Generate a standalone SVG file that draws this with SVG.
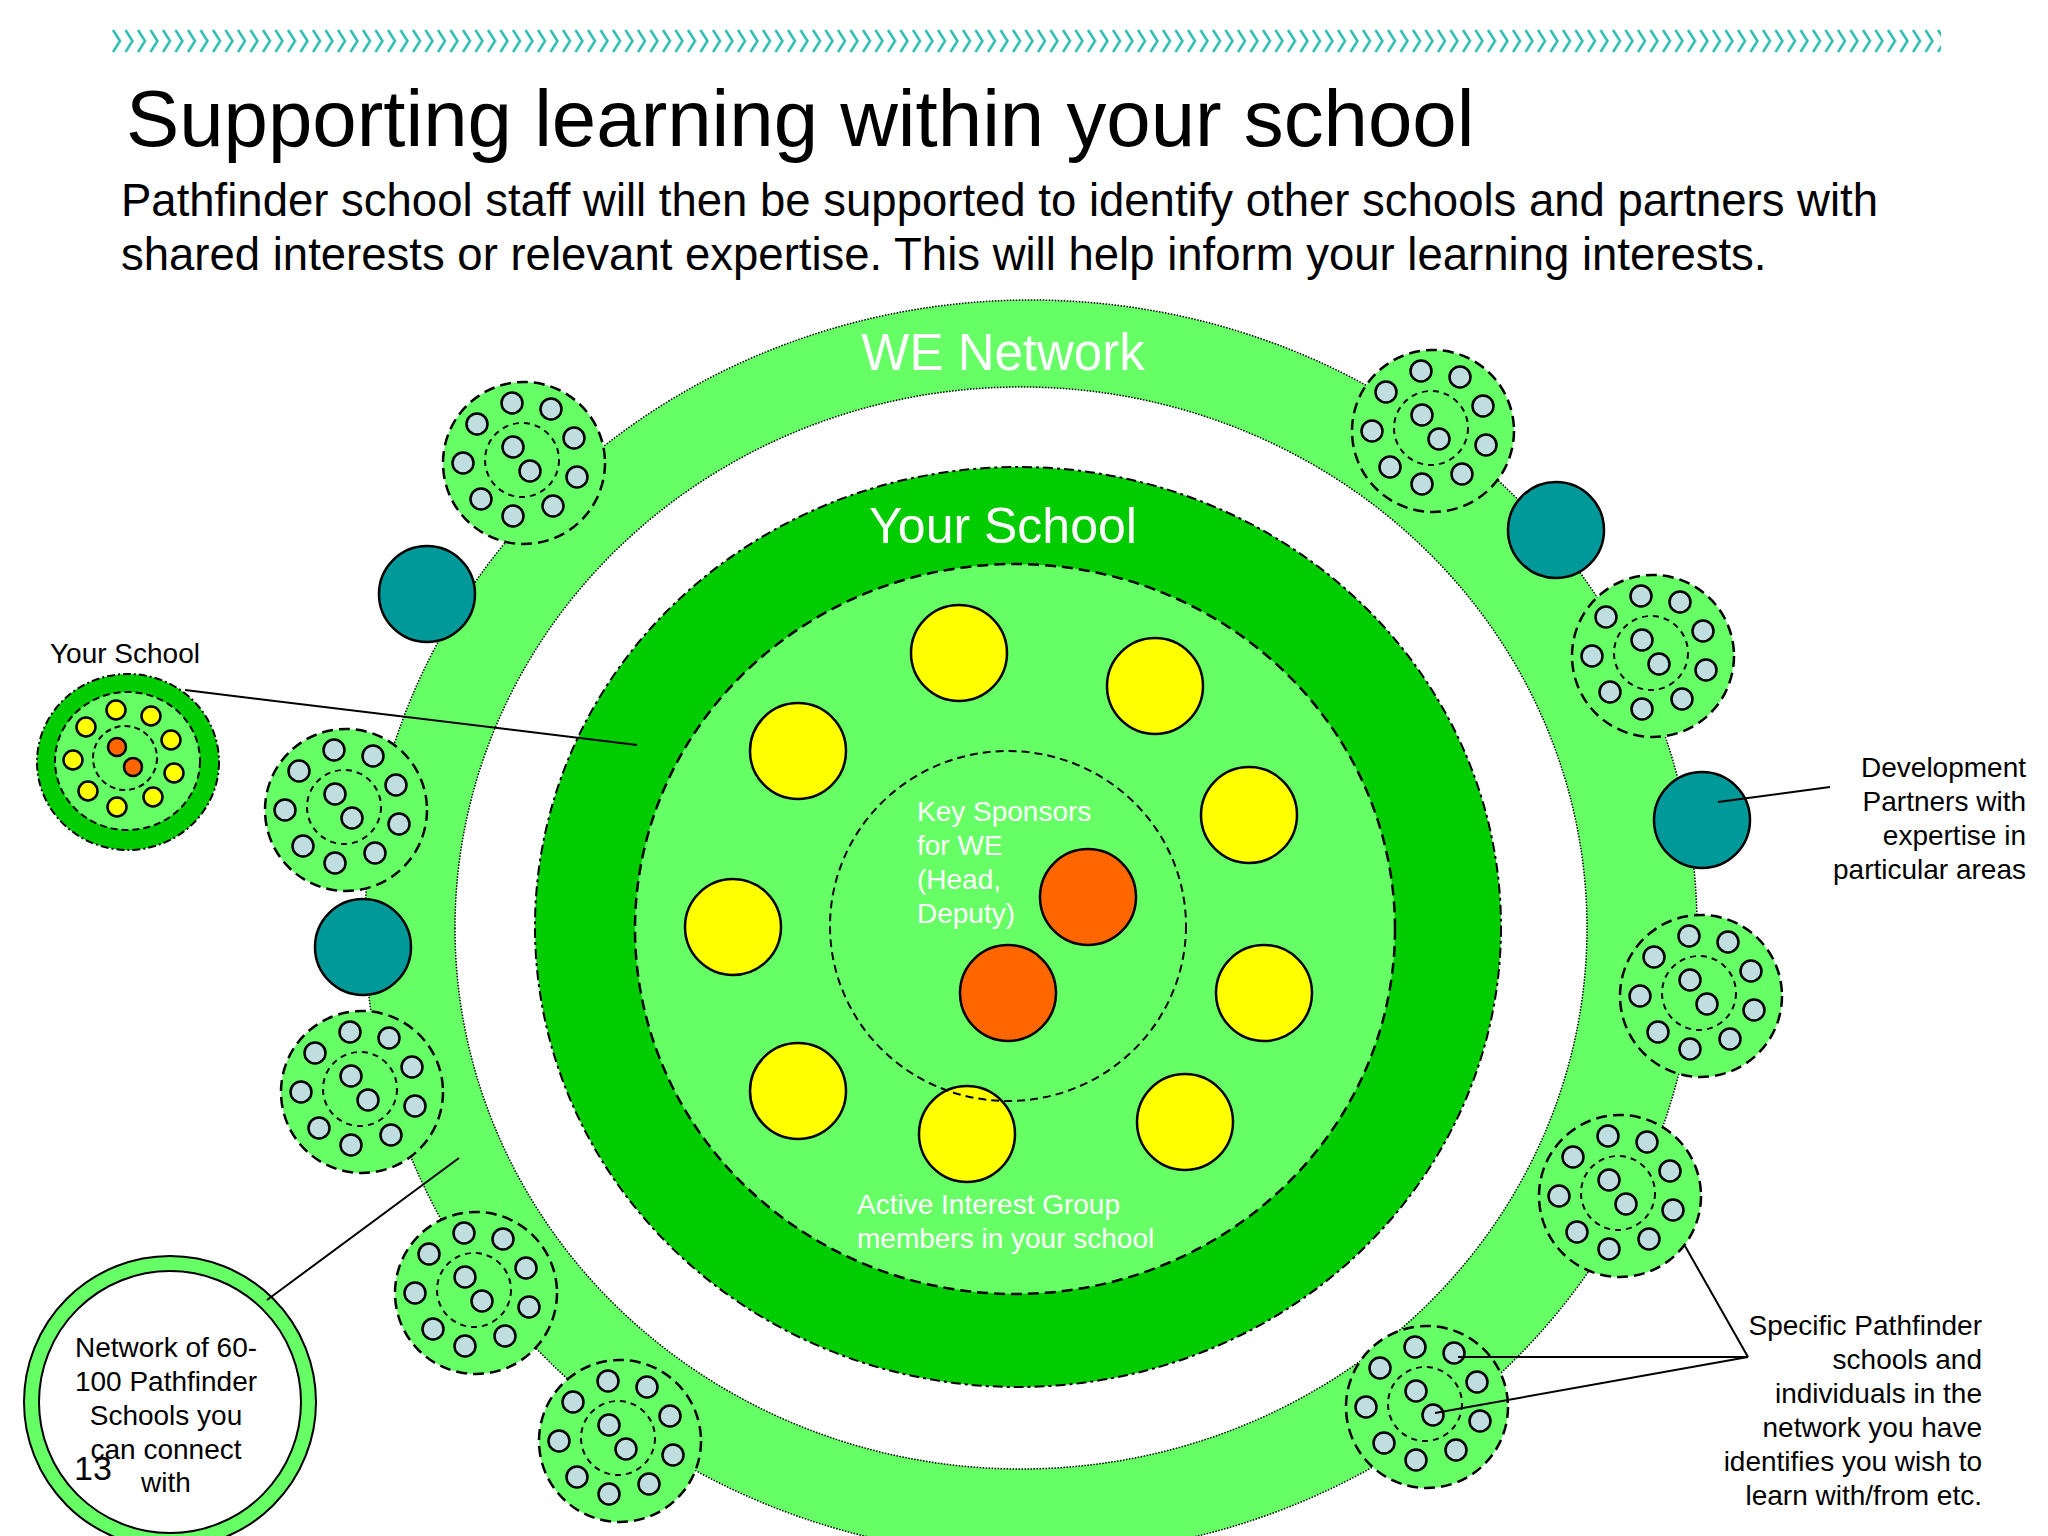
<svg xmlns="http://www.w3.org/2000/svg" xmlns:xlink="http://www.w3.org/1999/xlink" width="2048" height="1536" viewBox="0 0 2048 1536">
<style>
text{font-family:"Liberation Sans",Arial,sans-serif}
.lbl{font-size:28px;fill:#000}
.wlbl{font-size:28px;fill:#fff}
.big{fill:#fff}
.lg{fill:#66FF66}
.dg{fill:#00CC00}
.yel{fill:#FFFF00;stroke:#000;stroke-width:2.5}
.org{fill:#FF6600;stroke:#000;stroke-width:2.5}
.teal{fill:#009999;stroke:#000;stroke-width:2.5}
.blue{fill:#C0DEE0;stroke:#000;stroke-width:2.5}
.dash{fill:none;stroke:#000;stroke-width:2.5;stroke-dasharray:11 6}
.dash2{fill:none;stroke:#000;stroke-width:2;stroke-dasharray:6 5}
.line{stroke:#000;stroke-width:2;fill:none}
</style>
<defs>
<pattern id="chev" x="111" y="29" width="12.5" height="24" patternUnits="userSpaceOnUse">
<path d="M2,1 L9,12 L2,23" fill="none" stroke="#2BBBAF" stroke-width="2.5"/>
</pattern>
<g id="cluster">
<circle r="81" class="lg"/>
<circle r="81" class="dash"/>
<circle cx="-2" cy="-3" r="37" class="dash2"/>
<circle cx="-12" cy="-60" r="10.5" class="blue"/>
<circle cx="27" cy="-54" r="10.5" class="blue"/>
<circle cx="50" cy="-25" r="10.5" class="blue"/>
<circle cx="53" cy="14" r="10.5" class="blue"/>
<circle cx="29" cy="43" r="10.5" class="blue"/>
<circle cx="-11" cy="53" r="10.5" class="blue"/>
<circle cx="-43" cy="36" r="10.5" class="blue"/>
<circle cx="-61" cy="0" r="10.5" class="blue"/>
<circle cx="-47" cy="-39" r="10.5" class="blue"/>
<circle cx="-11" cy="-16" r="10.5" class="blue"/>
<circle cx="6" cy="8" r="10.5" class="blue"/>
</g>
</defs>
<rect width="2048" height="1536" fill="#fff"/>
<rect x="111" y="29" width="1830" height="24" fill="url(#chev)"/>
<text x="126" y="146" font-size="79.8">Supporting learning within your school</text>
<text x="121" y="216" font-size="45.5">Pathfinder school staff will then be supported to identify other schools and partners with</text>
<text x="121" y="270" font-size="45.5">shared interests or relevant expertise. This will help inform your learning interests.</text>

<g id="we-network">
<path d="M365,928 A666,628 0 1,0 1697,928 A666,628 0 1,0 365,928 Z M455,928 A566,541 0 1,0 1587,928 A566,541 0 1,0 455,928 Z" fill="#66FF66" fill-rule="evenodd" stroke="#000" stroke-width="1.5" stroke-dasharray="1.5 1.5"/>
<text x="1003" y="370" font-size="51" text-anchor="middle" class="big">WE Network</text>
</g>

<g id="partner-1"><circle cx="427" cy="594" r="48" class="teal"/></g>
<g id="partner-2"><circle cx="363" cy="947" r="48" class="teal"/></g>
<g id="partner-3"><circle cx="1556" cy="530" r="48" class="teal"/></g>
<g id="partner-4"><circle cx="1702" cy="820" r="48" class="teal"/></g>

<g id="school-1"><use xlink:href="#cluster" x="524" y="463"/></g>
<g id="school-2"><use xlink:href="#cluster" x="1433" y="431"/></g>
<g id="school-3"><use xlink:href="#cluster" x="1653" y="656"/></g>
<g id="school-4"><use xlink:href="#cluster" x="1701" y="996"/></g>
<g id="school-5"><use xlink:href="#cluster" x="1620" y="1196"/></g>
<g id="school-6"><use xlink:href="#cluster" x="1427" y="1407"/></g>
<g id="school-7"><use xlink:href="#cluster" x="620" y="1441"/></g>
<g id="school-8"><use xlink:href="#cluster" x="476" y="1293"/></g>
<g id="school-9"><use xlink:href="#cluster" x="362" y="1092"/></g>
<g id="school-10"><use xlink:href="#cluster" x="346" y="810"/></g>

<g id="your-school">
<ellipse cx="1018" cy="927" rx="483" ry="460" class="dg" stroke="#000" stroke-width="2" stroke-dasharray="10 4 3 4"/>
<text x="1003" y="543" font-size="50" text-anchor="middle" class="big">Your School</text>
</g>
<g id="interest-group">
<ellipse cx="1015" cy="929" rx="380" ry="365" class="lg"/>
<ellipse cx="1015" cy="929" rx="380" ry="365" class="dash"/>
<circle cx="959" cy="653" r="48" class="yel"/>
<circle cx="1155" cy="686" r="48" class="yel"/>
<circle cx="798" cy="751" r="48" class="yel"/>
<circle cx="1249" cy="815" r="48" class="yel"/>
<circle cx="733" cy="927" r="48" class="yel"/>
<circle cx="1264" cy="993" r="48" class="yel"/>
<circle cx="798" cy="1091" r="48" class="yel"/>
<circle cx="967" cy="1134" r="48" class="yel"/>
<circle cx="1185" cy="1122" r="48" class="yel"/>
<text class="wlbl"><tspan x="857" y="1214">Active Interest Group</tspan><tspan x="857" y="1248">members in your school</tspan></text>
</g>
<g id="key-sponsors">
<ellipse cx="1008" cy="926" rx="178" ry="175" fill="none" stroke="#000" stroke-width="2" stroke-dasharray="8 5"/>
<circle cx="1088" cy="897" r="48" class="org"/>
<circle cx="1008" cy="993" r="48" class="org"/>
<text class="wlbl"><tspan x="917" y="821">Key Sponsors</tspan><tspan x="917" y="855">for WE</tspan><tspan x="917" y="889">(Head,</tspan><tspan x="917" y="923">Deputy)</tspan></text>
</g>

<g id="your-school-icon">
<text x="50" y="663" class="lbl">Your School</text>
<ellipse cx="128" cy="762" rx="91" ry="88" class="dg" stroke="#000" stroke-width="2" stroke-dasharray="8 3 2 3"/>
<ellipse cx="127.5" cy="761" rx="72.5" ry="69" class="lg"/>
<ellipse cx="127.5" cy="761" rx="72.5" ry="69" fill="none" stroke="#000" stroke-width="2" stroke-dasharray="7 4"/>
<circle cx="125" cy="758" r="32" fill="none" stroke="#000" stroke-width="2" stroke-dasharray="6 4"/>
<circle cx="116" cy="710" r="9.5" class="yel" stroke-width="2"/>
<circle cx="151" cy="716" r="9.5" class="yel" stroke-width="2"/>
<circle cx="171" cy="740" r="9.5" class="yel" stroke-width="2"/>
<circle cx="174" cy="773" r="9.5" class="yel" stroke-width="2"/>
<circle cx="153" cy="797" r="9.5" class="yel" stroke-width="2"/>
<circle cx="117" cy="807" r="9.5" class="yel" stroke-width="2"/>
<circle cx="88" cy="791" r="9.5" class="yel" stroke-width="2"/>
<circle cx="73" cy="760" r="9.5" class="yel" stroke-width="2"/>
<circle cx="86" cy="727" r="9.5" class="yel" stroke-width="2"/>
<circle cx="117" cy="747" r="9" class="org" stroke-width="2"/>
<circle cx="133" cy="767" r="9" class="org" stroke-width="2"/>
</g>

<g id="network-icon">
<circle cx="170" cy="1402" r="146" fill="#66FF66" stroke="#000" stroke-width="2"/>
<circle cx="170" cy="1402" r="131" fill="#fff" stroke="#000" stroke-width="2"/>
<text class="lbl" text-anchor="middle"><tspan x="166" y="1357">Network of 60-</tspan><tspan x="166" y="1391">100 Pathfinder</tspan><tspan x="166" y="1425">Schools you</tspan><tspan x="166" y="1459">can connect</tspan><tspan x="166" y="1492">with</tspan></text>
</g>

<g id="dev-partners-label">
<text class="lbl" text-anchor="end"><tspan x="2026" y="777">Development</tspan><tspan x="2026" y="811">Partners with</tspan><tspan x="2026" y="845">expertise in</tspan><tspan x="2026" y="879">particular areas</tspan></text>
</g>
<g id="specific-label">
<text class="lbl" text-anchor="end"><tspan x="1982" y="1335">Specific Pathfinder</tspan><tspan x="1982" y="1369">schools and</tspan><tspan x="1982" y="1403">individuals in the</tspan><tspan x="1982" y="1437">network you have</tspan><tspan x="1982" y="1471">identifies you wish to</tspan><tspan x="1982" y="1505">learn with/from etc.</tspan></text>
</g>

<g id="connectors">
<line x1="185" y1="690" x2="637" y2="745" class="line"/>
<line x1="267" y1="1300" x2="459" y2="1158" class="line"/>
<line x1="1830" y1="787" x2="1718" y2="802" class="line"/>
<line x1="1748" y1="1357" x2="1685" y2="1246" class="line"/>
<line x1="1748" y1="1357" x2="1458" y2="1357" class="line"/>
<line x1="1748" y1="1357" x2="1435" y2="1413" class="line"/>
</g>

<text x="74" y="1480" font-family="Liberation Mono, monospace" font-size="34" fill="#000">13</text>
</svg>
